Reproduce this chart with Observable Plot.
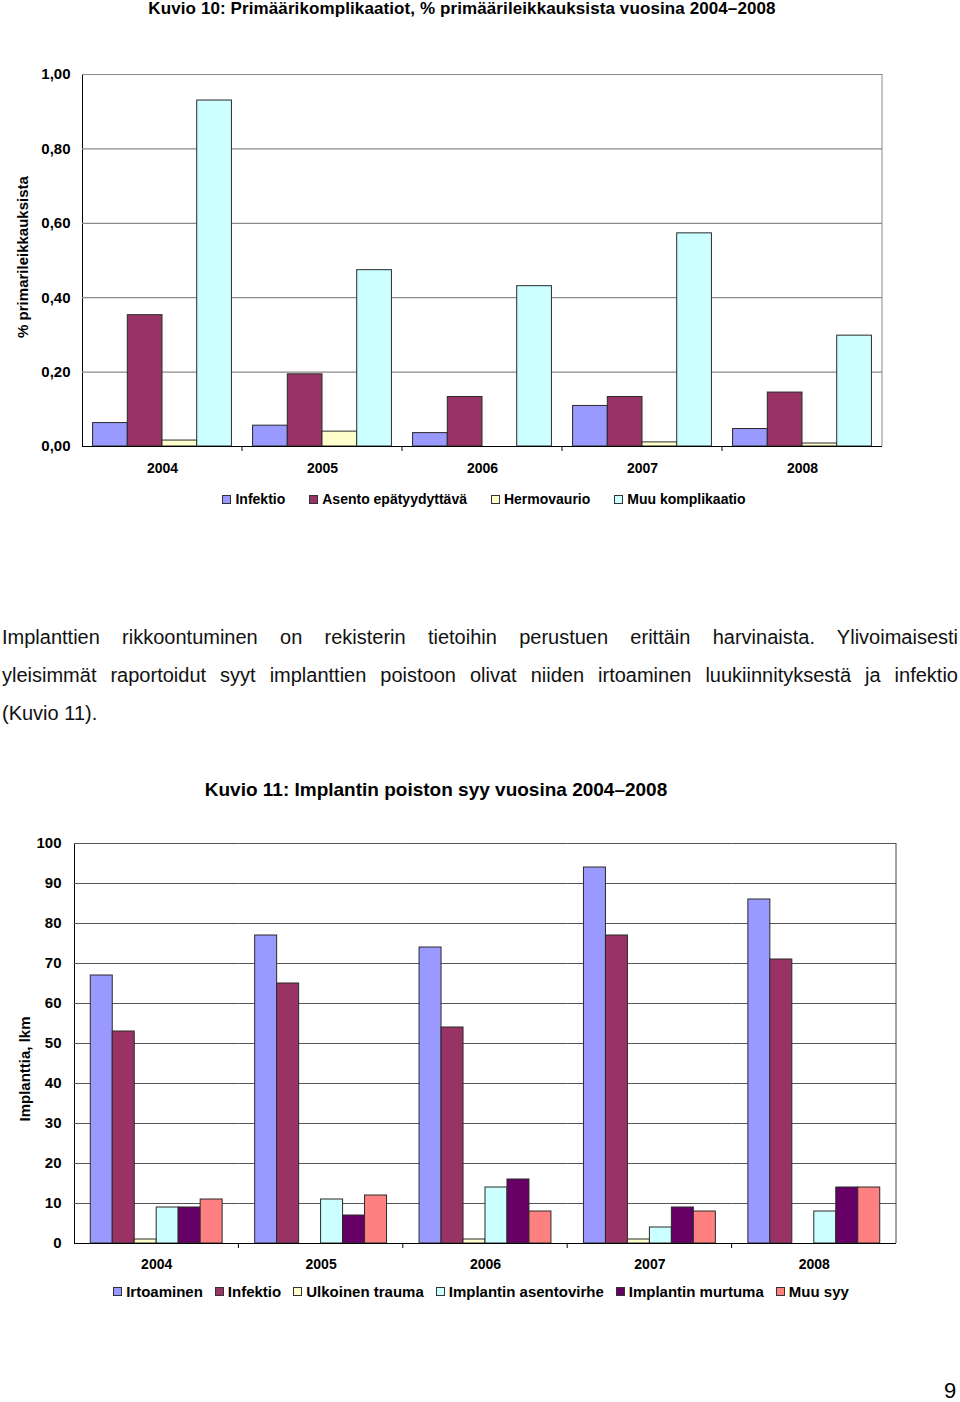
<!DOCTYPE html>
<html>
<head>
<meta charset="utf-8">
<script src="https://cdn.jsdelivr.net/npm/d3@7"></script>
<script src="https://cdn.jsdelivr.net/npm/@observablehq/plot@0.6"></script>
<style>
  html, body { margin: 0; padding: 0; background: #fff; }
  #page { position: relative; width: 960px; height: 1402px; overflow: hidden; font-family: "Liberation Sans", Arial, sans-serif; color: #000; }
  .abs { position: absolute; }
  .title1 { top: 0; left: 0; width: 924px; text-align: center; font-weight: bold; font-size: 17px; line-height: 18px; letter-spacing: 0.1px; }
  .title2 { top: 779px; left: 0; width: 872px; text-align: center; font-weight: bold; font-size: 19px; line-height: 22px; }
  .ylab { font-weight: bold; font-size: 15px; white-space: nowrap; transform: translate(-50%, -50%) rotate(-90deg); }
  .legend { display: flex; justify-content: center; align-items: center; font-weight: bold; font-size: 14px; white-space: nowrap; }
  .legend .it { display: flex; align-items: center; }
  .legend .sw { width: 7px; height: 7px; border: 1px solid #333; margin-right: 4px; }
  .para { left: 2px; width: 956px; font-size: 20px; line-height: 24px; color: #111; text-align: justify; white-space: nowrap; }
  .para.j { text-align-last: justify; white-space: normal; }
</style>
</head>
<body>
<div id="page"></div>
<script>
// ---------- Chart 1 data ----------
const years1 = ["2004", "2005", "2006", "2007", "2008"];
const series1 = ["Infektio", "Asento epätyydyttävä", "Hermovaurio", "Muu komplikaatio"];
const infektio1 = [0.063, 0.056, 0.036, 0.109, 0.047];
const asento1   = [0.353, 0.194, 0.133, 0.133, 0.145];
const hermo1    = [0.016, 0.040, 0.000, 0.011, 0.008];
const muu1      = [0.930, 0.474, 0.431, 0.573, 0.298];
const colors1 = ["#9999FF", "#993366", "#FFFFCC", "#CCFFFF"];
const yTicks1 = [0, 0.2, 0.4, 0.6, 0.8, 1.0];

// ---------- Chart 2 data ----------
const years2 = ["2004", "2005", "2006", "2007", "2008"];
const series2 = ["Irtoaminen", "Infektio", "Ulkoinen trauma", "Implantin asentovirhe", "Implantin murtuma", "Muu syy"];
const irtoaminen2 = [67, 77, 74, 94, 86];
const infektio2   = [53, 65, 54, 77, 71];
const ulkoinen2   = [1, 0, 1, 1, 0];
const asentovirhe2 = [9, 11, 14, 4, 8];
const murtuma2    = [9, 7, 16, 9, 14];
const muusyy2     = [11, 12, 8, 8, 14];
const colors2 = ["#9999FF", "#993366", "#FFFFCC", "#CCFFFF", "#660066", "#FF8080"];
const yTicks2 = [0, 10, 20, 30, 40, 50, 60, 70, 80, 90, 100];

const paraLines = [
  "Implanttien rikkoontuminen on rekisterin tietoihin perustuen erittäin harvinaista. Ylivoimaisesti",
  "yleisimmät raportoidut syyt implanttien poistoon olivat niiden irtoaminen luukiinnityksestä ja infektio",
  "(Kuvio 11)."
];

function toTable(years, series, arrays) {
  const rows = [];
  years.forEach((yr, i) => series.forEach((s, j) => rows.push({year: yr, series: s, value: arrays[j][i]})));
  return rows;
}
const data1 = toTable(years1, series1, [infektio1, asento1, hermo1, muu1]);
const data2 = toTable(years2, series2, [irtoaminen2, infektio2, ulkoinen2, asentovirhe2, murtuma2, muusyy2]);

const page = document.getElementById("page");
function addDiv(cls, style, html) {
  const d = document.createElement("div");
  d.className = "abs " + cls;
  Object.assign(d.style, style);
  d.innerHTML = html;
  page.appendChild(d);
  return d;
}

function addFrameBits(chart, rightStroke) {
  const fx = chart.scale("fx");
  const y = chart.scale("y");
  const svg = d3.select(chart);
  const xr = fx.range[1];
  const yTop = y.apply(y.domain[1]);
  const yBot = y.apply(y.domain[0]);
  svg.append("line").attr("x1", xr).attr("x2", xr).attr("y1", yTop).attr("y2", yBot)
    .attr("stroke", rightStroke).attr("stroke-width", 1);
  fx.domain.slice(1).forEach(d => {
    const xx = fx.apply(d);
    svg.append("line").attr("x1", xx).attr("x2", xx).attr("y1", yBot).attr("y2", yBot + 5)
      .attr("stroke", "#000").attr("stroke-width", 1);
  });
}

function legend(series, colors, top, centerX, gap) {
  return addDiv("legend", {top: top + "px", left: (centerX - 480) + "px", width: "960px", gap: gap + "px"},
    series.map((s, i) => `<span class="it"><span class="sw" style="background:${colors[i]}"></span>${s}</span>`).join(""));
}

const plotStyle = {fontFamily: "'Liberation Sans', Arial, sans-serif", fontSize: "15px", fontWeight: "bold", color: "#000", background: "transparent"};

// ---------- Title 1 ----------
addDiv("title1", {}, "Kuvio 10: Primäärikomplikaatiot, % primäärileikkauksista vuosina 2004–2008");

// ---------- Chart 1 ----------
const chart1 = Plot.plot({
  width: 960, height: 420,
  marginLeft: 82, marginRight: 78, marginTop: 14, marginBottom: 34,
  style: plotStyle,
  fx: {domain: years1, padding: 0, round: false, label: null, axis: "bottom", tickSize: 0, tickPadding: 17},
  x: {domain: series1, axis: null, round: false, paddingInner: 0, paddingOuter: 0.305},
  y: {domain: [0, 1], ticks: yTicks1, tickFormat: d => d.toFixed(2).replace(".", ","), tickSize: 0, tickPadding: 12, label: null, line: true},
  color: {domain: series1, range: colors1},
  marks: [
    Plot.ruleY(yTicks1.slice(1), {stroke: "#8a8a8a", strokeWidth: 1.2}),
    Plot.barY(data1, {fx: "year", x: "series", y: "value", fill: "series", stroke: "#2a2a2a", strokeWidth: 1, filter: d => d.value > 0}),
    Plot.ruleY([0], {stroke: "#000"})
  ]
});
chart1.style.position = "absolute";
chart1.style.left = "0px";
chart1.style.top = "60px";
page.appendChild(chart1);
addFrameBits(chart1, "#8a8a8a");
d3.select(chart1).selectAll("g[aria-label^='fx-axis'] text").style("font-size", "14px");
addDiv("ylab", {left: "22px", top: "257px"}, "% primarileikkauksista");
legend(series1, colors1, 491, 484, 24);

// ---------- Paragraph ----------
addDiv("para j", {top: "625px"}, paraLines[0]);
addDiv("para j", {top: "663px"}, paraLines[1]);
addDiv("para", {top: "701px"}, paraLines[2]);

// ---------- Chart 2 ----------
addDiv("title2", {}, "Kuvio 11: Implantin poiston syy vuosina 2004–2008");
const chart2 = Plot.plot({
  width: 960, height: 448,
  marginLeft: 74, marginRight: 64, marginTop: 13, marginBottom: 35,
  style: plotStyle,
  fx: {domain: years2, padding: 0, round: false, label: null, axis: "bottom", tickSize: 0, tickPadding: 16},
  x: {domain: series2, axis: null, round: false, paddingInner: 0, paddingOuter: 0.74},
  y: {domain: [0, 100], ticks: yTicks2, tickFormat: d => String(d), tickSize: 0, tickPadding: 13, label: null, line: true},
  color: {domain: series2, range: colors2},
  marks: [
    Plot.ruleY(yTicks2.slice(1), {stroke: "#555", strokeWidth: 1.2}),
    Plot.barY(data2, {fx: "year", x: "series", y: "value", fill: "series", stroke: "#2a2a2a", strokeWidth: 1, filter: d => d.value > 0}),
    Plot.ruleY([0], {stroke: "#000"})
  ]
});
chart2.style.position = "absolute";
chart2.style.left = "0px";
chart2.style.top = "830px";
page.appendChild(chart2);
addFrameBits(chart2, "#444");
d3.select(chart2).selectAll("g[aria-label^='fx-axis'] text").style("font-size", "14px");
addDiv("ylab", {left: "24px", top: "1069px"}, "Implanttia, lkm");
legend(series2, colors2, 1283, 481, 12).style.fontSize = "15px";

// ---------- Page number ----------
addDiv("", {left: "944px", top: "1378px", fontSize: "22px", lineHeight: "26px"}, "9");
</script>
</body>
</html>
